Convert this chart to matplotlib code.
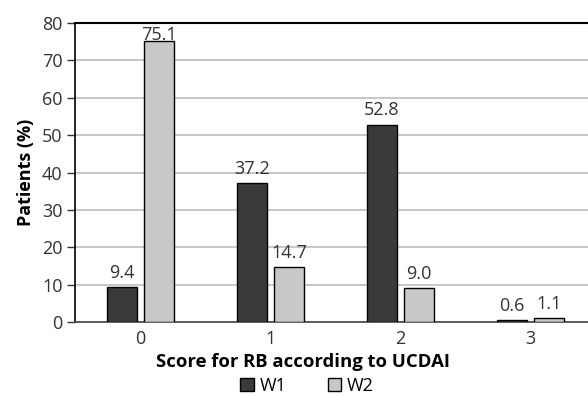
import matplotlib.pyplot as plt
import numpy as np

# Datos
categorias = ["0", "1", "2", "3"]
w1 = [9.4, 37.2, 52.8, 0.6]
w2 = [75.1, 14.7, 9.0, 1.1]
etiquetas_w1 = ["9.4", "37.2", "52.8", "0.6"]
etiquetas_w2 = ["75.1", "14.7", "9.0", "1.1"]

plt.rcParams['font.family'] = ['Open Sans', 'DejaVu Sans']

fig = plt.figure(figsize=(5.88, 3.96), dpi=100)
ax = fig.add_axes([75 / 588, 74 / 396, 513 / 588, 299 / 396])

x = np.arange(len(categorias))
ancho = 0.23
desp = 0.142

b1 = ax.bar(x - desp, w1, ancho, color="#3a3a3a", edgecolor="black", linewidth=1.0, label="W1", zorder=3)
b2 = ax.bar(x + desp, w2, ancho, color="#c8c8c8", edgecolor="black", linewidth=1.0, label="W2", zorder=3)

# Etiquetas de valor sobre las barras
for barra, txt in zip(b1, etiquetas_w1):
    ax.text(barra.get_x() + barra.get_width() / 2, barra.get_height() + 1.4, txt,
            ha="center", va="bottom", fontsize=13, color="#333333")
for barra, txt in zip(b2, etiquetas_w2):
    dy = -0.8 if txt == "75.1" else 1.4
    ax.text(barra.get_x() + barra.get_width() / 2, barra.get_height() + dy, txt,
            ha="center", va="bottom", fontsize=13, color="#333333")

ax.set_xlim(-0.503, 3.443)
ax.set_ylim(0, 80)
ax.set_yticks(range(0, 81, 10))
ax.set_xticks(x)
ax.set_xticklabels(categorias)
ax.yaxis.grid(True, color="#bdbdbd", linewidth=1.2, zorder=0)
ax.set_axisbelow(True)

ax.spines["right"].set_visible(False)
ax.spines["top"].set_color("black")
ax.spines["top"].set_linewidth(1.5)
ax.spines["left"].set_color("black")
ax.spines["left"].set_linewidth(1.2)
ax.spines["bottom"].set_color("#444444")
ax.spines["bottom"].set_linewidth(1.2)

ax.tick_params(axis="y", length=6, width=1, colors="#333333", labelsize=13, pad=3)
ax.tick_params(axis="x", length=0, colors="#333333", labelsize=13, pad=6)

ax.set_ylabel("Patients (%)", fontsize=13, fontweight="bold", labelpad=5)
ax.set_xlabel("Score for RB according to UCDAI", fontsize=13.3, fontweight="bold")
ax.xaxis.set_label_coords((303 - 75) / 513, -31 / 299)

fig.legend(handles=[b1, b2], labels=["W1", "W2"], loc="center", bbox_to_anchor=(307 / 588, 10 / 396),
           ncol=2, frameon=False, fontsize=13, handlelength=0.75, handleheight=0.75,
           handletextpad=0.3, columnspacing=2.3, borderpad=0)

fig.savefig("out.png", dpi=100)
